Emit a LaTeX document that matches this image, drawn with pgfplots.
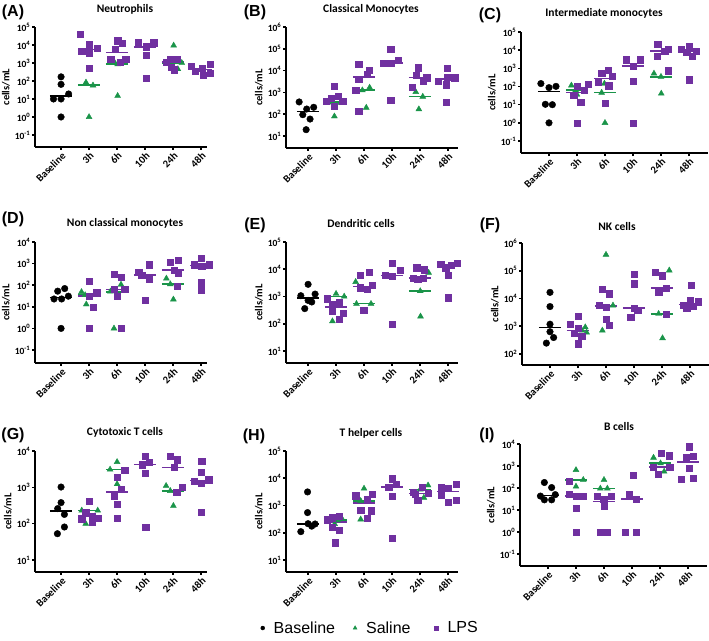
\documentclass[border=0pt]{standalone}
\usepackage{fontspec}
\setmainfont{Carlito}
\newfontfamily\arial{Liberation Sans}
\usepackage{pgfplots}
\pgfplotsset{compat=1.18}
\definecolor{sal}{RGB}{26,148,73}
\definecolor{lps}{RGB}{112,48,160}
\newcommand\tickfont{\fontsize{9.5}{10}\selectfont\bfseries}
\newcommand\labfont{\fontsize{10.5}{12}\selectfont\bfseries}
\newcommand\titfont{\fontsize{11.5}{13}\selectfont\bfseries}
\newcommand\letfont{\arial\fontsize{16}{18}\selectfont\bfseries}
\newcommand\tp[1]{10\textsuperscript{#1}}
% axis lines drawn through the axis: #1 x-line start, #2 xmin, #3 xmax, #4 ymin, #5 lowest tick, #6 ymax
\newcommand\AxL[6]{%
  \addplot[black, line width=1.6pt, no markers, forget plot] coordinates {(#1,#4) (#3,#4)};
  \addplot[black, line width=1.6pt, no markers, forget plot] coordinates {(#2,#5) (#2,#6)};}
% y ticks: #1 outer x, #2 xmin, #3 list of tick values
\newcommand\YT[3]{\pgfplotsinvokeforeach{#3}{\addplot[black, line width=1.6pt, no markers, forget plot] coordinates {(#1,##1) (#2,##1)};}}
% x ticks: #1 ymin, #2 lower y
\newcommand\XT[2]{\pgfplotsinvokeforeach{0,1,2,3,4,5}{\addplot[black, line width=1.6pt, no markers, forget plot] coordinates {(##1,#1) (##1,#2)};}}
\newcommand\Bm{\addplot[only marks, mark=*, mark size=3.3pt, black, forget plot] coordinates}
\newcommand\Sm{\addplot[only marks, mark=triangle*, mark size=3.4pt, sal, forget plot] coordinates}
\newcommand\Pm{\addplot[only marks, mark=square*, mark size=3.1pt, lps, forget plot] coordinates}
\newcommand\Med[4]{\addplot[no markers, line width=1.6pt, #1, forget plot] coordinates {(#2,#4) (#3,#4)};}
\pgfplotsset{every axis/.append style={
    scale only axis, ymode=log, log basis y=10,
    axis lines=left, axis line style={black, line width=1.1pt, -},
    tick style={black, line width=1.1pt},
    major tick length=3pt, tick align=outside,
    yminorticks=false, xminorticks=false,
    xtick={0,1,2,3,4,5},
    xticklabels={Baseline,3h,6h,10h,24h,48h},
    x tick label style={rotate=45, anchor=north east, font=\labfont, inner sep=1pt},
    y tick label style={font=\tickfont, inner sep=1.5pt},
    ylabel={cells/mL}, ylabel style={font=\labfont},
    clip=false, anchor=south west,
  }}
\begin{document}
\begin{tikzpicture}
\path[use as bounding box] (0pt,0pt) rectangle (709pt,-640pt);
% ---------- titles and letters
\node[font=\letfont] at (13pt,-12pt) {(A)};
\node[font=\letfont] at (255pt,-12pt) {(B)};
\node[font=\letfont] at (490pt,-15pt) {(C)};
\node[font=\letfont] at (13pt,-219pt) {(D)};
\node[font=\letfont] at (255pt,-225pt) {(E)};
\node[font=\letfont] at (490pt,-225pt) {(F)};
\node[font=\letfont] at (13pt,-435pt) {(G)};
\node[font=\letfont] at (254pt,-436pt) {(H)};
\node[font=\letfont] at (487pt,-435pt) {(I)};
\node[font=\titfont] at (125pt,-9pt) {Neutrophils};
\node[font=\titfont] at (371pt,-9pt) {Classical Monocytes};
\node[font=\titfont] at (604pt,-13pt) {Intermediate monocytes};
\node[font=\titfont] at (125pt,-223pt) {Non classical monocytes};
\node[font=\titfont] at (361pt,-223pt) {Dendritic cells};
\node[font=\titfont] at (617pt,-227pt) {NK cells};
\node[font=\titfont] at (125pt,-432pt) {Cytotoxic T cells};
\node[font=\titfont] at (371pt,-433pt) {T helper cells};
\node[font=\titfont] at (619pt,-426pt) {B cells};

% ---------- (A) Neutrophils
\begin{axis}[at={(35pt,-147pt)}, width=172pt, height=120pt, xmin=-0.93, xmax=5.21, ymin=0.0215, ymax=1e5,
  ytick={0.1,1,10,100,1000,10000,100000}, yticklabels={\tp{-1},\tp{0},\tp{1},\tp{2},\tp{3},\tp{4},\tp{5}}]
\AxL{-0.54}{-0.93}{5.21}{0.0215}{0.1}{1e5}
\YT{-1.037}{-0.93}{0.1,1,10,100,1000,10000,100000}
\XT{0.0215}{0.01465}
\Bm {(0,170) (0,65) (-0.27,10) (0,10) (0.27,19) (0,1)};
\Sm {(0.89,83) (1.14,57) (1,1) (1.9,1150) (2.02,850) (2.02,15) (4.02,9400) (4.17,460) (4.31,1020)};
\Pm {(0.68,38000) (0.74,4500) (1,10500) (1,3600) (1.28,6900) (1,540)
 (2.02,17500) (2.17,13000) (1.92,5800) (1.77,1600) (2.1,1100) (2.31,1550)
 (2.76,13500) (3.05,8100) (3.31,13500) (3.05,2800) (3.05,145)
 (3.89,1700) (4.14,1550) (3.75,1070) (3.94,590) (4.04,420)
 (4.66,690) (4.8,340) (5.05,540) (5.31,830) (5.06,220) (5.32,280)};
\Med{black}{-0.4}{0.4}{14.5}
\Med{sal}{0.6}{1.4}{60}
\Med{lps}{0.6}{1.4}{5700}
\Med{sal}{1.6}{2.4}{890}
\Med{lps}{1.6}{2.4}{3800}
\Med{lps}{2.6}{3.4}{8000}
\Med{sal}{3.6}{4.4}{1020}
\Med{lps}{3.6}{4.4}{1100}
\Med{lps}{4.6}{5.4}{440}
\end{axis}

% ---------- (B) Classical monocytes
\begin{axis}[at={(286pt,-148pt)}, width=172pt, height=121pt, xmin=-0.79, xmax=5.36, ymin=2.82, ymax=1e6,
  ytick={10,100,1000,10000,100000,1000000}, yticklabels={\tp{1},\tp{2},\tp{3},\tp{4},\tp{5},\tp{6}}]
\AxL{-0.54}{-0.79}{5.36}{2.82}{10}{1e6}
\YT{-0.897}{-0.79}{10,100,1000,10000,100000,1000000}
\XT{2.82}{2.05}
\Bm {(-0.32,365) (-0.05,173) (0.2,208) (-0.19,95) (0.07,60) (-0.07,19.5)};
\Sm {(0.73,350) (1.17,340) (0.94,80) (1.94,1260) (2.2,1670) (2.08,200) (3.85,1050) (4.1,640) (3.96,170)};
\Pm {(0.94,1860) (0.82,540) (1.08,650) (0.64,380) (1.24,410) (0.94,240)
 (1.81,20000) (2.19,10500) (2.1,6600) (1.81,4000) (1.7,1260) (1.81,132)
 (2.95,97000) (2.68,22000) (2.95,22000) (3.23,30000) (2.95,440)
 (3.95,13700) (3.86,6000) (4.24,4700) (4.11,3200) (3.73,1740)
 (4.96,13000) (4.96,5000) (4.65,3200) (5.24,4700) (4.95,2240) (4.95,365)};
\Med{black}{-0.4}{0.4}{134}
\Med{sal}{0.6}{1.4}{355}
\Med{lps}{0.6}{1.4}{470}
\Med{sal}{1.6}{2.4}{1280}
\Med{lps}{1.6}{2.4}{5200}
\Med{lps}{2.6}{3.4}{23000}
\Med{sal}{3.6}{4.4}{650}
\Med{lps}{3.6}{4.4}{4800}
\Med{lps}{4.6}{5.4}{4000}
\end{axis}

% ---------- (C) Intermediate monocytes
\begin{axis}[at={(521pt,-153pt)}, width=187pt, height=121pt, xmin=-1.0, xmax=5.68, ymin=0.0219, ymax=1e5,
  ytick={0.1,1,10,100,1000,10000,100000}, yticklabels={\tp{-1},\tp{0},\tp{1},\tp{2},\tp{3},\tp{4},\tp{5}}]
\AxL{-0.5}{-1.0}{5.68}{0.0219}{0.1}{1e5}
\YT{-1.107}{-1.0}{0.1,1,10,100,1000,10000,100000}
\XT{0.0219}{0.0150}
\Bm {(-0.29,145) (0,87) (0.25,102) (-0.13,10.5) (0.12,10) (0,1)};
\Sm {(0.8,115) (0.95,62) (1,36) (1.98,145) (1.88,46) (2,1) (3.75,520) (4,345) (4.01,41)};
\Pm {(1,100) (1.39,130) (1.26,62) (0.88,32) (1.13,13.6) (1,1)
 (2.12,780) (1.88,550) (1.76,178) (2.25,365) (2.13,112) (2,11.5)
 (2.75,3000) (3.27,3000) (3.01,1350) (3.01,190) (3.01,1)
 (3.88,22000) (4.13,8700) (4.26,11500) (3.86,4600) (4.26,740)
 (4.73,11200) (5.01,15600) (4.92,8000) (5.27,8900) (5.11,4800) (5.01,240)};
\Med{black}{-0.4}{0.4}{52}
\Med{sal}{0.6}{1.4}{64}
\Med{lps}{0.6}{1.4}{48}
\Med{sal}{1.6}{2.4}{46}
\Med{lps}{1.6}{2.4}{270}
\Med{lps}{2.6}{3.4}{1350}
\Med{sal}{3.6}{4.4}{335}
\Med{lps}{3.6}{4.4}{8700}
\Med{lps}{4.6}{5.4}{8400}
\end{axis}

% ---------- (D) Non classical monocytes
\begin{axis}[at={(35pt,-363pt)}, width=172pt, height=121pt, xmin=-0.93, xmax=5.21, ymin=0.025, ymax=1e4,
  ytick={0.1,1,10,100,1000,10000}, yticklabels={\tp{-1},\tp{0},\tp{1},\tp{2},\tp{3},\tp{4}}]
\AxL{-0.54}{-0.93}{5.21}{0.025}{0.1}{1e4}
\YT{-1.037}{-0.93}{0.1,1,10,100,1000,10000}
\XT{0.025}{0.01815}
\Bm {(-0.12,53) (0.13,70) (-0.25,23) (0.02,23) (0.26,31) (0,1)};
\Sm {(0.73,49) (0.86,35) (0.9,13) (2.14,107) (1.76,51) (1.89,1) (3.76,205) (3.9,112) (4.01,22)};
\Pm {(1,150) (1.27,45) (1.01,31) (1.15,10) (1,1)
 (1.89,310) (2.15,240) (1.89,66) (2.27,63) (2.01,31) (2.16,1)
 (2.77,410) (2.88,300) (3.14,890) (3.14,190) (3.01,20)
 (3.9,1200) (4.17,1380) (4.04,490) (4.17,345) (4.16,93)
 (5.01,1820) (4.75,890) (5.02,750) (5.29,890) (5.01,130) (5.01,59)};
\Med{black}{-0.4}{0.4}{27}
\Med{sal}{0.6}{1.4}{35}
\Med{lps}{0.6}{1.4}{31}
\Med{sal}{1.6}{2.4}{49}
\Med{lps}{1.6}{2.4}{64}
\Med{lps}{2.6}{3.4}{300}
\Med{sal}{3.6}{4.4}{112}
\Med{lps}{3.6}{4.4}{490}
\Med{lps}{4.6}{5.4}{830}
\end{axis}

% ---------- (E) Dendritic cells
\begin{axis}[at={(286pt,-363pt)}, width=172pt, height=121pt, xmin=-0.79, xmax=5.36, ymin=3.63, ymax=1e5,
  ytick={10,100,1000,10000,100000}, yticklabels={\tp{1},\tp{2},\tp{3},\tp{4},\tp{5}}]
\AxL{-0.54}{-0.79}{5.36}{3.63}{10}{1e5}
\YT{-0.897}{-0.79}{10,100,1000,10000,100000}
\XT{3.63}{2.82}
\Bm {(0,2800) (-0.26,1070) (0,720) (0.25,1230) (0.13,630) (-0.12,360)};
\Sm {(1,1260) (1.29,1000) (0.87,124) (1.7,3450) (1.73,540) (2.25,540) (4.31,7500) (4.01,1580) (4.02,186)};
\Pm {(0.68,830) (0.87,520) (1.1,590) (0.87,290) (1.25,245) (1.11,145)
 (2.18,7900) (1.86,6000) (1.87,2100) (2.29,2570) (2.1,1900) (1.99,320)
 (3,17000) (3.28,9100) (2.76,6200) (3.01,5500) (3.01,95)
 (3.88,11400) (4.14,9600) (3.76,4750) (3.92,4400) (4.12,4750)
 (4.74,15200) (4.92,11500) (5.12,14500) (5.33,17000) (5.01,6000) (5.01,910)};
\Med{black}{-0.4}{0.4}{900}
\Med{sal}{0.6}{1.4}{1000}
\Med{lps}{0.6}{1.4}{410}
\Med{sal}{1.6}{2.4}{550}
\Med{lps}{1.6}{2.4}{2350}
\Med{lps}{2.6}{3.4}{6000}
\Med{sal}{3.6}{4.4}{1580}
\Med{lps}{3.6}{4.4}{4750}
\Med{lps}{4.6}{5.4}{13000}
\end{axis}

% ---------- (F) NK cells
\begin{axis}[at={(522pt,-365pt)}, width=187pt, height=122pt, xmin=-1.0, xmax=5.68, ymin=39.8, ymax=1e6,
  ytick={100,1000,10000,100000,1000000}, yticklabels={\tp{2},\tp{3},\tp{4},\tp{5},\tp{6}}]
\AxL{-0.5}{-1.0}{5.68}{39.8}{100}{1e6}
\YT{-1.107}{-1.0}{100,1000,10000,100000,1000000}
\XT{39.8}{31.0}
\Bm {(0,16600) (0,5100) (0,1180) (0,630) (0.13,390) (-0.13,245)};
\Sm {(1.26,920) (1.14,700) (1.31,590) (2,380000) (2.25,5600) (1.87,700) (4.26,103000) (3.88,2800) (4.02,370)};
\Pm {(1,2240) (0.73,1150) (1,850) (0.87,560) (1.13,450) (1,235)
 (1.87,22000) (2.12,14800) (1.75,5900) (2,4900) (2,1800) (2.12,1050)
 (3,76000) (3,34000) (3,4600) (3.13,3700) (2.88,2100)
 (3.76,87000) (4.02,66000) (3.88,16600) (4.14,23700) (4.14,2700)
 (5.04,31000) (4.75,5600) (5,8300) (5.3,7600) (4.88,4500) (5.1,5100)};
\Med{black}{-0.4}{0.4}{905}
\Med{sal}{0.6}{1.4}{700}
\Med{lps}{0.6}{1.4}{705}
\Med{sal}{1.6}{2.4}{5600}
\Med{lps}{1.6}{2.4}{5400}
\Med{lps}{2.6}{3.4}{4600}
\Med{sal}{3.6}{4.4}{2800}
\Med{lps}{3.6}{4.4}{23700}
\Med{lps}{4.6}{5.4}{6000}
\end{axis}

% ---------- (G) Cytotoxic T cells
\begin{axis}[at={(35pt,-572pt)}, width=172pt, height=121pt, xmin=-0.93, xmax=5.21, ymin=4.68, ymax=1e4,
  ytick={10,100,1000,10000}, yticklabels={\tp{1},\tp{2},\tp{3},\tp{4}}]
\AxL{-0.54}{-0.93}{5.21}{4.68}{10}{1e4}
\YT{-1.037}{-0.93}{10,100,1000,10000}
\XT{4.68}{3.87}
\Bm {(0,1020) (0,380) (-0.12,260) (0.12,180) (0.12,81) (-0.13,53)};
\Sm {(0.74,230) (1.31,230) (0.88,100) (2,5000) (1.75,3100) (2,1230) (3.75,1100) (3.9,800) (4.01,310)};
\Pm {(1,425) (0.88,210) (1.12,162) (0.74,135) (1.31,140) (1.12,112)
 (2.27,2950) (2,1950) (2.15,890) (1.89,570) (2.01,345) (2.01,145)
 (3.01,7100) (2.89,4200) (3.15,4800) (3.01,2400) (3.02,81)
 (3.9,7300) (4.15,5800) (4.04,3500) (4.33,1030) (4.13,750)
 (5.02,5200) (5.01,2650) (4.74,1440) (5.01,1320) (5.27,1630) (5.01,205)};
\Med{black}{-0.4}{0.4}{220}
\Med{sal}{0.6}{1.4}{230}
\Med{lps}{0.6}{1.4}{165}
\Med{sal}{1.6}{2.4}{3100}
\Med{lps}{1.6}{2.4}{740}
\Med{lps}{2.6}{3.4}{4200}
\Med{sal}{3.6}{4.4}{800}
\Med{lps}{3.6}{4.4}{3500}
\Med{lps}{4.6}{5.4}{1535}
\end{axis}

% ---------- (H) T helper cells
\begin{axis}[at={(286pt,-572pt)}, width=172pt, height=121pt, xmin=-0.79, xmax=5.36, ymin=3.63, ymax=1e5,
  ytick={10,100,1000,10000,100000}, yticklabels={\tp{1},\tp{2},\tp{3},\tp{4},\tp{5}},
  legend style={at={(0.49,-0.463)}, anchor=center, draw=none, fill=none, font=\arial\fontsize{16}{18}\selectfont,
  legend columns=3}]
\addlegendimage{only marks, mark=*, mark size=2pt, black}
\addlegendentry{\hspace{7pt}Baseline\rule{16pt}{0pt}}
\addlegendimage{only marks, mark=triangle*, mark size=2.3pt, sal}
\addlegendentry{\hspace{7pt}Saline\rule{22pt}{0pt}}
\addlegendimage{only marks, mark=square*, mark size=2pt, lps}
\addlegendentry{\hspace{7pt}LPS}
\AxL{-0.54}{-0.79}{5.36}{3.63}{10}{1e5}
\YT{-0.897}{-0.79}{10,100,1000,10000,100000}
\XT{3.63}{2.82}
\Bm {(-0.02,3150) (-0.02,550) (-0.26,110) (0,215) (0.13,175) (0.25,210)};
\Sm {(1.21,330) (1.05,290) (0.95,210) (2,4200) (1.88,1480) (1.88,310) (4.01,3900) (4.29,5500) (4.14,1950)};
\Pm {(0.87,355) (1.12,400) (0.67,300) (0.87,160) (1.11,126) (0.98,43)
 (1.7,2300) (2.29,2600) (2.1,1700) (1.88,670) (2.26,640) (2.12,350)
 (3,9700) (3.14,5900) (2.88,4800) (3,2250) (3,62)
 (4.08,4800) (3.76,3150) (3.83,2600) (3.92,1580) (4.29,2800)
 (4.76,4700) (5.02,4200) (5.29,5900) (4.76,2450) (5.29,1580) (5.01,1350)};
\Med{black}{-0.4}{0.4}{212}
\Med{sal}{0.6}{1.4}{290}
\Med{lps}{0.6}{1.4}{245}
\Med{sal}{1.6}{2.4}{1480}
\Med{lps}{1.6}{2.4}{1250}
\Med{lps}{2.6}{3.4}{4800}
\Med{sal}{3.6}{4.4}{3900}
\Med{lps}{3.6}{4.4}{2800}
\Med{lps}{4.6}{5.4}{3300}
\end{axis}

% ---------- (I) B cells
\begin{axis}[at={(520pt,-566pt)}, width=187pt, height=122pt, xmin=-1.0, xmax=5.68, ymin=0.0285, ymax=1e4,
  ytick={0.1,1,10,100,1000,10000}, yticklabels={\tp{-1},\tp{0},\tp{1},\tp{2},\tp{3},\tp{4}}]
\AxL{-0.5}{-1.0}{5.68}{0.0285}{0.1}{1e4}
\YT{-1.107}{-1.0}{0.1,1,10,100,1000,10000}
\XT{0.0285}{0.0208}
\Bm {(-0.13,178) (0.13,105) (-0.27,43) (0.26,50) (-0.13,29) (0.13,29)};
\Sm {(1,660) (1,117) (1.26,235) (2,235) (1.87,95) (2.12,95) (3.77,2400) (4.02,1330) (4.15,560)};
\Pm {(0.75,196) (0.77,52) (1,44) (1.26,44) (1,11.7) (1,1)
 (1.77,44) (1.99,31) (2.25,44) (2,15.5) (1.87,1) (2.12,1)
 (3.05,380) (2.9,54) (3.15,31) (2.77,1) (3.15,1)
 (4.05,3800) (4.32,2950) (3.77,870) (4.35,900) (3.95,425)
 (5.04,7600) (4.95,2400) (5.19,2850) (5.04,790) (4.77,250) (5.19,280)};
\Med{black}{-0.4}{0.4}{46}
\Med{sal}{0.6}{1.4}{235}
\Med{lps}{0.6}{1.4}{44}
\Med{sal}{1.6}{2.4}{95}
\Med{lps}{1.6}{2.4}{24}
\Med{lps}{2.6}{3.4}{31}
\Med{sal}{3.6}{4.4}{1330}
\Med{lps}{3.6}{4.4}{900}
\Med{lps}{4.6}{5.4}{1550}
\end{axis}
\end{tikzpicture}
\end{document}
